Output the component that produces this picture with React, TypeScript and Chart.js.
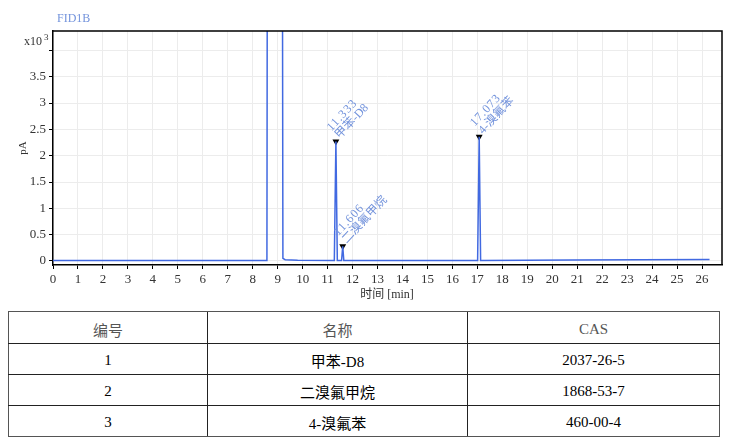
import React, { useEffect, useRef } from "react";
import { Chart, registerables } from "chart.js";

Chart.register(...registerables);

// ---- data ----
const times = [0, 5, 8.57, 8.6, 9.17, 9.21, 9.3, 9.8, 11.27, 11.333, 11.39, 11.56, 11.606, 11.65, 17.01, 17.073, 17.13, 20.8, 26.3];
const signal = [0.01, 0.01, 0.01, 12, 12, 0.05, 0.025, 0.012, 0.01, 2.27, 0.01, 0.01, 0.28, 0.01, 0.01, 2.36, 0.01, 0.02, 0.03];

const peakTimes = [11.333, 11.606, 17.073];
const peakHeights = [2.27, 0.28, 2.36];
const peakTimeLabels = ["11.333", "11.606", "17.073"];
const peakNames = ["甲苯-D8", "二溴氟甲烷", "4-溴氟苯"];

const xTicks = [0, 1, 2, 3, 4, 5, 6, 7, 8, 9, 10, 11, 12, 13, 14, 15, 16, 17, 18, 19, 20, 21, 22, 23, 24, 25, 26];
const yTicks = [0, 0.5, 1, 1.5, 2, 2.5, 3, 3.5, 4];
const yTickLabels = ["0", "0.5", "1", "1.5", "2", "2.5", "3", "3.5", ""];

const tableHeaders = ["编号", "名称", "CAS"];
const tableIds = ["1", "2", "3"];
const tableNames = ["甲苯-D8", "二溴氟甲烷", "4-溴氟苯"];
const tableCas = ["2037-26-5", "1868-53-7", "460-00-4"];

const SERIF = "'Liberation Serif', 'Times New Roman', 'DejaVu Serif', 'Noto Sans CJK SC', serif";
const LINE_COLOR = "#4169e1";
const LABEL_COLOR = "#7393dc";

const overlayPlugin = {
  id: "overlay",
  afterDraw(chart: any) {
    const { ctx, chartArea } = chart;
    const xs = chart.scales.x;
    const ys = chart.scales.y;
    ctx.save();
    // frame top & right
    ctx.strokeStyle = "#000";
    ctx.lineWidth = 1.5;
    ctx.beginPath();
    ctx.moveTo(chartArea.left, chartArea.top);
    ctx.lineTo(chartArea.right, chartArea.top);
    ctx.lineTo(chartArea.right, chartArea.bottom);
    ctx.stroke();

    // FID1B
    ctx.fillStyle = LABEL_COLOR;
    ctx.font = `12px ${SERIF}`;
    ctx.textAlign = "left";
    ctx.textBaseline = "alphabetic";
    ctx.fillText("FID1B", 57, 22);

    // x10^3
    ctx.fillStyle = "#333";
    ctx.font = `12px ${SERIF}`;
    ctx.textAlign = "right";
    ctx.fillText("x10", 42, 45);
    ctx.font = `9px ${SERIF}`;
    ctx.textAlign = "left";
    ctx.fillText("3", 44, 40);

    // pA
    ctx.save();
    ctx.translate(26, 148);
    ctx.rotate(-Math.PI / 2);
    ctx.font = `11px ${SERIF}`;
    ctx.textAlign = "center";
    ctx.fillText("pA", 0, 0);
    ctx.restore();

    // x title
    ctx.font = `12px ${SERIF}`;
    ctx.textAlign = "center";
    ctx.fillStyle = "#333";
    ctx.fillText("时间 [min]", 387, 298);

    // peak labels
    ctx.fillStyle = LABEL_COLOR;
    ctx.textAlign = "left";
    for (let i = 0; i < peakTimes.length; i++) {
      const px = xs.getPixelForValue(peakTimes[i]);
      const py = ys.getPixelForValue(peakHeights[i]);
      ctx.save();
      ctx.translate(px - 4.5, py - 10);
      ctx.rotate((-47 * Math.PI) / 180);
      ctx.font = `12px ${SERIF}`;
      (ctx as any).letterSpacing = "1px";
      ctx.fillText(peakTimeLabels[i], 0, 0);
      (ctx as any).letterSpacing = "0px";
      ctx.fillText(peakNames[i], 0, 11.5);
      ctx.restore();
    }
    ctx.restore();
  },
};

function ChromChart() {
  const ref = useRef<HTMLCanvasElement | null>(null);
  useEffect(() => {
    if (!ref.current) return;
    const chart = new Chart(ref.current, {
      type: "line",
      data: {
        datasets: [
          {
            type: "line",
            data: times.map((t, i) => ({ x: t, y: signal[i] })),
            borderColor: LINE_COLOR,
            borderWidth: 1.5,
            pointRadius: 0,
            tension: 0,
            fill: false,
          },
          {
            type: "scatter",
            data: peakTimes.map((t, i) => ({ x: t, y: peakHeights[i] })),
            pointStyle: "triangle",
            rotation: 180,
            pointRadius: 4,
            backgroundColor: "#000",
            borderColor: "#000",
            borderWidth: 0,
          } as any,
        ],
      },
      options: {
        animation: false,
        responsive: false,
        layout: { padding: { top: 31, right: 17, left: 0, bottom: 0 } },
        plugins: { legend: { display: false }, tooltip: { enabled: false } },
        scales: {
          x: {
            type: "linear",
            min: 0,
            max: 26.8,
            afterBuildTicks: (s: any) => {
              s.ticks = xTicks.map((v) => ({ value: v }));
            },
            afterFit: (s: any) => {
              s.height = 35;
            },
            grid: { color: "#ececec", tickColor: "#000", tickLength: 4, lineWidth: 1 },
            border: { color: "#000", width: 1.5 },
            ticks: {
              color: "#333",
              padding: 3,
              maxRotation: 0,
              autoSkip: false,
              font: { family: SERIF, size: 13 },
              callback: (v: any) => String(v),
            },
          },
          y: {
            type: "linear",
            min: -0.076,
            max: 4.368,
            afterBuildTicks: (s: any) => {
              s.ticks = yTicks.map((v) => ({ value: v }));
            },
            afterFit: (s: any) => {
              s.width = 53;
            },
            grid: { color: "#ececec", tickColor: "#000", tickLength: 4, lineWidth: 1 },
            border: { color: "#000", width: 1.5 },
            ticks: {
              color: "#333",
              padding: 3,
              autoSkip: false,
              font: { family: SERIF, size: 13 },
              callback: (v: any) => {
                const idx = yTicks.indexOf(Number(v));
                return idx >= 0 ? yTickLabels[idx] : "";
              },
            },
          },
        },
      },
      plugins: [overlayPlugin],
    } as any);
    return () => chart.destroy();
  }, []);
  return <canvas ref={ref} width={739} height={300} style={{ display: "block", width: 739, height: 300 }} />;
}

function DataTable() {
  const outer = "1.5px solid #555";
  const inner = "1px solid #222";
  const cell = (col: number, header: boolean, last: boolean): React.CSSProperties => ({
    borderLeft: col === 0 ? outer : inner,
    borderRight: col === 2 ? outer : "none",
    borderTop: header ? outer : "none",
    borderBottom: last ? outer : inner,
    textAlign: "center",
    verticalAlign: "middle",
    padding: "3px 0 0 0",
    color: header ? "#555" : "#000",
    fontSize: 15,
    fontFamily: SERIF,
  });
  const widths = [199, 260, 252];
  const rows = tableIds.map((id, i) => [id, tableNames[i], tableCas[i]]);
  return (
    <table
      style={{
        position: "absolute",
        left: 8,
        top: 311,
        width: 711,
        borderCollapse: "collapse",
        tableLayout: "fixed",
      }}
    >
      <colgroup>
        {widths.map((w, i) => (
          <col key={i} style={{ width: w }} />
        ))}
      </colgroup>
      <tbody>
        <tr style={{ height: 32 }}>
          {tableHeaders.map((h, c) => (
            <td key={c} style={cell(c, true, false)}>
              {h}
            </td>
          ))}
        </tr>
        {rows.map((r, ri) => (
          <tr key={ri} style={{ height: 31 }}>
            {r.map((v, c) => (
              <td key={c} style={cell(c, false, ri === rows.length - 1)}>
                {v}
              </td>
            ))}
          </tr>
        ))}
      </tbody>
    </table>
  );
}

export default function App() {
  return (
    <div style={{ position: "absolute", left: 0, top: 0, width: 739, height: 447, background: "#fff" }}>
      <ChromChart />
      <DataTable />
    </div>
  );
}
